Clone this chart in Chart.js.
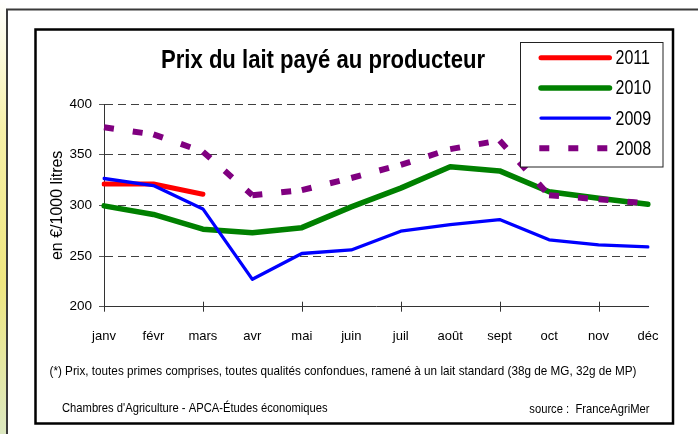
<!DOCTYPE html>
<html>
<head>
<meta charset="utf-8">
<style>
  html, body { margin: 0; padding: 0; background: #fff; }
  #wrap { width: 698px; height: 434px; }
</style>
<script src="https://cdn.jsdelivr.net/npm/chart.js@4.4.1/dist/chart.umd.min.js"></script>
</head>
<body>
<div id="wrap"><canvas id="milk-chart" width="698" height="434"></canvas></div>
<script>
const months = ['janv', 'févr', 'mars', 'avr', 'mai', 'juin', 'juil', 'août', 'sept', 'oct', 'nov', 'déc'];
const price2011 = [321, 321, 311];
const price2010 = [299.5, 291, 276.5, 273, 278, 298.5, 317, 338, 334, 313.5, 307, 301];
const price2009 = [326.5, 319.5, 296.5, 227, 252.5, 256, 274.5, 281, 286, 266, 261, 259];
const price2008 = [377, 370, 353, 310, 315, 327, 340, 355.5, 364, 310, 306, 302];
const yTicks = [200, 250, 300, 350, 400];

const chartTitle = 'Prix du lait payé au producteur';
const yTitle = 'en €/1000 litres';
const footnote = '(*) Prix, toutes primes comprises, toutes qualités confondues, ramené à un lait standard (38g de MG, 32g de MP)';
const credit = "Chambres d'Agriculture - APCA-Études économiques";
const source = 'source :  FranceAgriMer';

const sans = "'Liberation Sans', Arial, sans-serif";

// no Arial Narrow here: squeeze Liberation Sans horizontally instead
function narrowText(ctx, text, x, y, font, align, sx, fitWidth) {
  ctx.save();
  ctx.font = font;
  ctx.textAlign = 'left';
  ctx.textBaseline = 'alphabetic';
  const w = ctx.measureText(text).width;
  if (fitWidth) sx = fitWidth / w;
  const ww = w * sx;
  let left = x;
  if (align === 'center') left = x - ww / 2;
  if (align === 'right') left = x - ww;
  ctx.translate(left, y);
  ctx.scale(sx, 1);
  ctx.fillText(text, 0, 0);
  ctx.restore();
}

// frames, title, legend box and notes around the plot
const decor = {
  id: 'decor',
  beforeDraw(chart) {
    const ctx = chart.ctx;
    ctx.save();
    const g = ctx.createLinearGradient(0, 0, 0, 434);
    g.addColorStop(0, '#ffffff');
    g.addColorStop(0.3, '#f6f0a8');
    g.addColorStop(0.65, '#efe680');
    g.addColorStop(1, '#dce8c0');
    ctx.fillStyle = g;
    ctx.fillRect(0, 0, 6, 434);

    ctx.strokeStyle = '#3a3a3a';
    ctx.lineWidth = 2;
    ctx.strokeRect(7, 9.5, 700, 440);

    ctx.strokeStyle = '#000';
    ctx.lineWidth = 2.5;
    ctx.strokeRect(35.5, 29.5, 637.5, 394);
    ctx.restore();
  },
  afterDraw(chart) {
    const ctx = chart.ctx;
    const xs = chart.scales.x;
    ctx.save();

    // x tick marks crossing the axis, every second month
    ctx.strokeStyle = '#333';
    ctx.lineWidth = 1;
    for (let i = 0; i < months.length; i += 2) {
      const x = Math.round(xs.getPixelForValue(i)) + 0.5;
      ctx.beginPath();
      ctx.moveTo(x, xs.top - 5);
      ctx.lineTo(x, xs.top + 5);
      ctx.stroke();
    }

    ctx.fillStyle = '#000';
    narrowText(ctx, chartTitle, 323, 68.3, 'bold 25px ' + sans, 'center', 1, 324);

    // legend
    ctx.fillStyle = '#fff';
    ctx.fillRect(520.5, 42.5, 142.5, 124.5);
    ctx.strokeStyle = '#222';
    ctx.lineWidth = 1;
    ctx.strokeRect(520.5, 42.5, 142.5, 124.5);
    chart.data.datasets.forEach((ds, k) => {
      const y = 57.7 + k * 30.2;
      ctx.save();
      ctx.strokeStyle = ds.borderColor;
      ctx.lineWidth = ds.borderWidth;
      ctx.lineCap = ds.borderCapStyle || 'round';
      ctx.setLineDash(ds.borderDash || []);
      ctx.beginPath();
      if (ctx.lineCap === 'round') {
        ctx.moveTo(541, y);
        ctx.lineTo(609.5, y);
      } else {
        ctx.moveTo(539.3, y);
        ctx.lineTo(612, y);
      }
      ctx.stroke();
      ctx.restore();
      ctx.fillStyle = '#000';
      narrowText(ctx, ds.label, 615.5, y + 6.5, '19.5px ' + sans, 'left', 0.82);
    });

    // notes
    ctx.fillStyle = '#000';
    narrowText(ctx, footnote, 49.5, 374.8, '13.5px ' + sans, 'left', 1, 587);
    narrowText(ctx, credit, 62, 412, '13.5px ' + sans, 'left', 0.83);
    narrowText(ctx, source, 649.5, 412.5, '13.5px ' + sans, 'right', 0.83);
    ctx.restore();
  }
};

const lineBase = {
  fill: false,
  tension: 0,
  pointRadius: 0,
  pointHoverRadius: 0,
  borderJoinStyle: 'round',
  borderCapStyle: 'round'
};

const chartConfig = {
  type: 'line',
  data: {
    labels: months,
    datasets: [
      { ...lineBase, label: '2011', data: price2011, borderColor: '#ff0000', borderWidth: 5, order: 2 },
      { ...lineBase, label: '2010', data: price2010, borderColor: '#008000', borderWidth: 5.5, order: 3 },
      { ...lineBase, label: '2009', data: price2009, borderColor: '#0000ff', borderWidth: 3.3, order: 1 },
      {
        ...lineBase, label: '2008', data: price2008, borderColor: '#800080', borderWidth: 6,
        borderDash: [10, 19], borderCapStyle: 'butt', borderJoinStyle: 'miter', order: 0,
        // restart the dash pattern at every month, like the original
        segment: { borderDashOffset: c => (c.p0DataIndex % 2) * 29 }
      }
    ]
  },
  options: {
    responsive: false,
    animation: false,
    devicePixelRatio: 1,
    layout: { padding: { left: 36, right: 50, top: 104, bottom: 72.3 } },
    plugins: {
      legend: { display: false },
      title: { display: false },
      tooltip: { enabled: false }
    },
    scales: {
      x: {
        type: 'category',
        offset: false,
        grid: { display: false },
        border: { display: true, color: '#333', width: 1 },
        ticks: {
          autoSkip: false,
          maxRotation: 0,
          padding: 14,
          color: '#000',
          font: { family: sans, size: 13 }
        },
        afterFit: s => { s.height = 55; }
      },
      y: {
        min: 200,
        max: 400,
        grid: { color: '#404040', lineWidth: 1, tickLength: 5, tickColor: '#555' },
        border: { display: true, color: '#333', width: 1, dash: [8, 5] },
        ticks: {
          padding: 7,
          color: '#000',
          font: { family: sans, size: 13.5 }
        },
        afterBuildTicks: s => { s.ticks = yTicks.map(v => ({ value: v })); },
        title: {
          display: true,
          text: yTitle,
          color: '#000',
          font: { family: sans, size: 16 },
          padding: { top: 12, bottom: 0 }
        },
        afterFit: s => { s.width = 68; }
      }
    }
  },
  plugins: [decor]
};

new Chart(document.getElementById('milk-chart'), chartConfig);
</script>
</body>
</html>
